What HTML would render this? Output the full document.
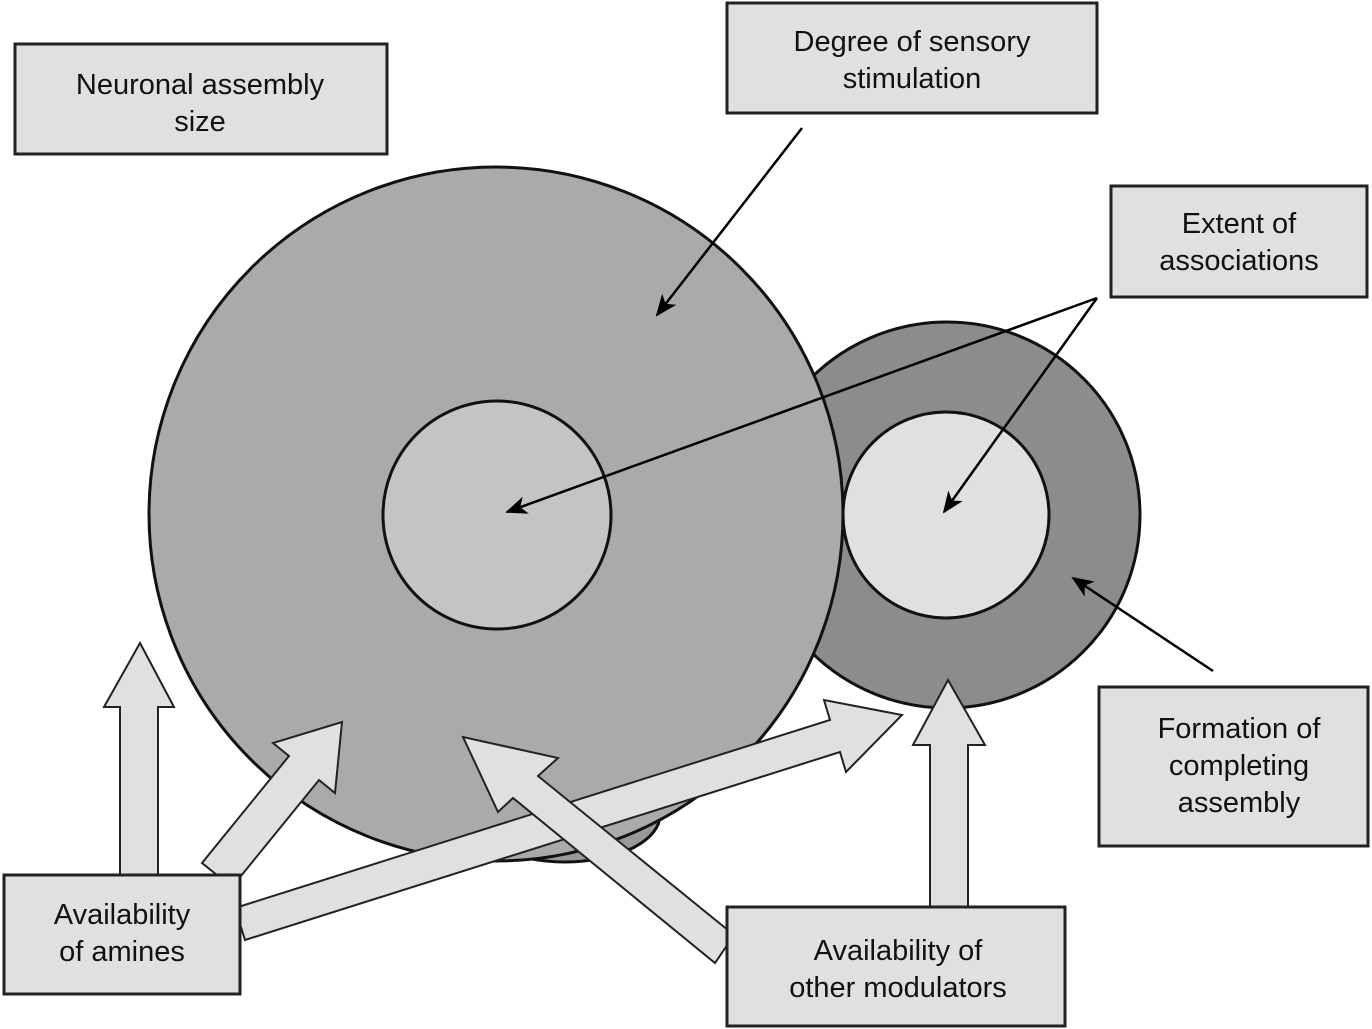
<!DOCTYPE html>
<html><head><meta charset="utf-8"><style>
html,body{margin:0;padding:0;background:#fff;}
svg{display:block;}
text{font-family:"Liberation Sans",Arial,sans-serif;font-size:29px;fill:#111;}
</style></head><body>
<svg width="1372" height="1029" viewBox="0 0 1372 1029" xmlns="http://www.w3.org/2000/svg">
<defs>
<marker id="ah2" markerWidth="22" markerHeight="18" refX="20" refY="9" orient="auto" markerUnits="userSpaceOnUse" viewBox="0 0 22 18">
<path d="M0,0 L22,9 L0,18 L6,9 Z" fill="#000"/>
</marker>
</defs>
<ellipse cx="565" cy="815" rx="95" ry="47" fill="#999" stroke="#111" stroke-width="3"/>
<circle cx="947" cy="515" r="193" fill="#8c8c8c" stroke="#111" stroke-width="3"/>
<circle cx="496" cy="514" r="347" fill="#aaaaaa" stroke="#111" stroke-width="3"/>
<circle cx="497" cy="515" r="114" fill="#c4c4c4" stroke="#111" stroke-width="3"/>
<circle cx="946" cy="515" r="103" fill="#e0e0e0" stroke="#111" stroke-width="3"/>

<g fill="#e0e0e0" stroke="#222" stroke-width="2" stroke-linejoin="miter">
<polygon points="120,880 120,707 104,707 140,643 174,707 158,707 158,880"/>
<polygon points="202,863 289,756 273,743 342,722 335,793 319,780 232,887"/>
<polygon points="235,908 830,720 824,700 902,715 846,772 840,752 245,940"/>
<polygon points="734,935 538,776 558,758 463,737 498,812 513,798 715,963"/>
<polygon points="930,910 930,745 913,745 948,680 985,745 968,745 968,910"/>
</g>

<g stroke="#000" stroke-width="2.5" fill="none">
<line x1="802" y1="128" x2="657" y2="315" marker-end="url(#ah2)"/>
<line x1="1097" y1="298" x2="507" y2="512" marker-end="url(#ah2)"/>
<line x1="1097" y1="298" x2="944" y2="512" marker-end="url(#ah2)"/>
<line x1="1213" y1="671" x2="1073" y2="578" marker-end="url(#ah2)"/>
</g>

<g fill="#e0e0e0" stroke="#222" stroke-width="3">
<rect x="15" y="44" width="372" height="110"/>
<rect x="727" y="3" width="370" height="110"/>
<rect x="1111" y="186" width="256" height="111"/>
<rect x="1099" y="687" width="269" height="159"/>
<rect x="4" y="875" width="236" height="119"/>
<rect x="727" y="907" width="338" height="119"/>
</g>
<g text-anchor="middle">
<text x="200" y="94">Neuronal assembly</text>
<text x="200" y="131">size</text>
<text x="912" y="51">Degree of sensory</text>
<text x="912" y="88">stimulation</text>
<text x="1239" y="233">Extent of</text>
<text x="1239" y="270">associations</text>
<text x="1239" y="738">Formation of</text>
<text x="1239" y="775">completing</text>
<text x="1239" y="812">assembly</text>
<text x="122" y="924">Availability</text>
<text x="122" y="961">of amines</text>
<text x="898" y="960">Availability of</text>
<text x="898" y="997">other modulators</text>
</g>
</svg>
</body></html>
